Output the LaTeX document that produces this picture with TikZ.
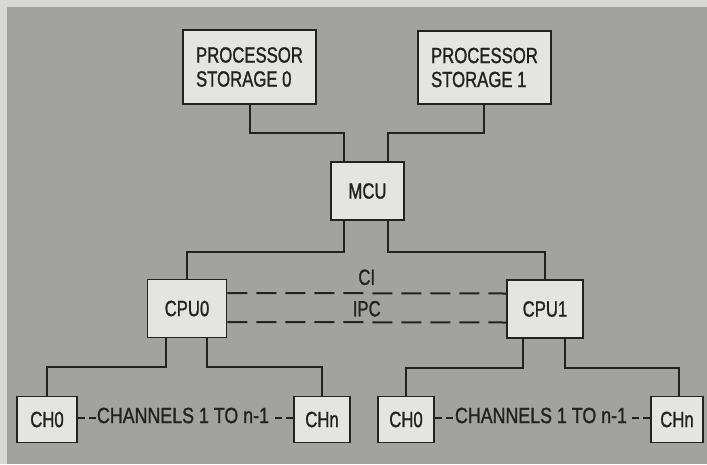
\documentclass[tikz,border=0pt]{standalone}
\usepackage{fontspec}
\usetikzlibrary{calc}
\setmainfont{Liberation Sans}[FakeStretch=0.76, FakeBold=1.2]
\newfontfamily\chfont{Liberation Sans}[FakeStretch=0.81, FakeBold=1.2]
\definecolor{paper}{HTML}{D8D8D6}
\definecolor{bg}{HTML}{A2A2A0}
\definecolor{boxfill}{HTML}{E4E4E2}
\definecolor{ink}{HTML}{222222}
\begin{document}
\begin{tikzpicture}[x=1pt,y=-1pt,
  unit/.style={draw=ink, line width=1.5pt, fill=boxfill, text=ink, inner sep=0pt,
    font=\fontsize{22}{24}\selectfont, align=left},
  wire/.style={draw=ink, line width=2pt},
  linkdash/.style={draw=ink, line width=2pt, dash pattern=on 20pt off 9pt},
  chdash/.style={draw=ink, line width=2pt, dash pattern=on 7pt off 4.5pt},
  lbl/.style={text=ink, font=\fontsize{22}{24}\selectfont, inner sep=1pt},
  rnglbl/.style={text=ink, font=\chfont\fontsize{22}{24}\selectfont, inner xsep=1pt, inner ysep=0pt}]
\useasboundingbox (0,0) rectangle (707,464);
\fill[paper] (0,0) rectangle (707,464);
\fill[bg] (7,7) rectangle (707,464);

\node[unit, minimum width=133pt, minimum height=74pt] (ps0) at (249.5,67) {PROCESSOR\\STORAGE 0};
\node[unit, minimum width=133pt, minimum height=73pt] (ps1) at (484.5,67.5) {PROCESSOR\\STORAGE 1};
\node[unit, minimum width=73pt, minimum height=58pt] (mcu) at (367.5,191) {MCU};
\node[unit, minimum width=79pt, minimum height=58pt] (cpu0) at (187,308.5) {CPU0};
\node[unit, minimum width=76pt, minimum height=58pt] (cpu1) at (545,309) {CPU1};
\node[unit, minimum width=60pt, minimum height=46pt] (ch0a) at (47,419.5) {CH0};
\node[unit, minimum width=56pt, minimum height=46pt] (chna) at (322,419.5) {CHn};
\node[unit, minimum width=56pt, minimum height=46pt] (ch0b) at (406,419.5) {CH0};
\node[unit, minimum width=52pt, minimum height=46pt] (chnb) at (677,419.5) {CHn};

% storage to MCU
\draw[wire] (ps0.south) -- ++(0,28) -| ([xshift=-23.5pt]mcu.north);
\draw[wire] ([xshift=-1pt]ps1.south) -- ++(0,28) -| ([xshift=20.5pt]mcu.north);
% MCU to CPUs
\draw[wire] ([xshift=-23.5pt]mcu.south) -- ++(0,31) -| (cpu0.north);
\draw[wire] ([xshift=20.5pt]mcu.south) -- ++(0,31) -| (cpu1.north);
% CPUs to channels
\draw[wire] ([xshift=-21pt]cpu0.south) -- ++(0,29) -| (ch0a.north);
\draw[wire] ([xshift=20pt]cpu0.south) -- ++(0,29) -| (chna.north);
\draw[wire] ([xshift=-22.5pt]cpu1.south) -- ++(0,29) -| (ch0b.north);
\draw[wire] ([xshift=19.5pt]cpu1.south) -- ++(0,29) -| ([xshift=2pt]chnb.north);

% CI and IPC links
\draw[linkdash] ([yshift=15.5pt]cpu0.east) -- node[lbl, midway, yshift=16pt] {CI} ([yshift=15.5pt]cpu1.west);
\draw[linkdash] ([yshift=-13.5pt]cpu0.east) -- node[lbl, midway, yshift=13.5pt] {IPC} ([yshift=-13.5pt]cpu1.west);

% channel ranges
\node[rnglbl] (rnga) at ([xshift=-2.5pt, yshift=4pt]$(ch0a.east)!0.5!(chna.west)$) {CHANNELS 1 TO n-1};
\node[rnglbl] (rngb) at ([xshift=-1.5pt, yshift=4pt]$(ch0b.east)!0.5!(chnb.west)$) {CHANNELS 1 TO n-1};
\draw[chdash] ([yshift=1.5pt]ch0a.east) -- ([yshift=1.5pt]ch0a.east -| rnga.west);
\draw[chdash] ([yshift=1.5pt]chna.west) -- ([yshift=1.5pt, xshift=4pt]chna.west -| rnga.east);
\draw[chdash] ([yshift=1.5pt]ch0b.east) -- ([yshift=1.5pt]ch0b.east -| rngb.west);
\draw[chdash] ([yshift=1.5pt]chnb.west) -- ([yshift=1.5pt, xshift=4pt]chnb.west -| rngb.east);
\end{tikzpicture}
\end{document}
